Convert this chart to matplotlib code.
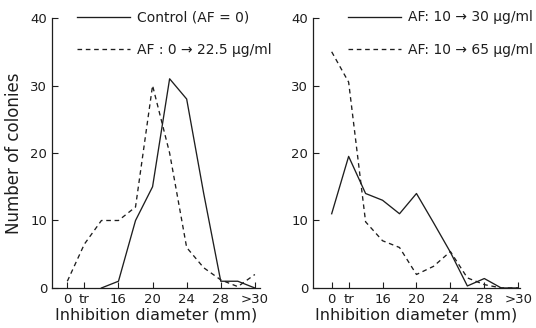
import matplotlib.pyplot as plt

# x categories (inhibition diameter, mm): 0, tr, 14, 16, ... 30, >30
categories = ['0', 'tr', '14', '16', '18', '20', '22', '24', '26', '28', '30', '>30']
tick_idx = [0, 1, 3, 5, 7, 9, 11]
tick_labels = ['0', 'tr', '16', '20', '24', '28', '>30']

# left panel
control = [None, None, 0, 1, 10, 15, 31, 28, 14, 1, 1, 0]
af_0_225 = [1, 6.5, 10, 10, 12, 30, 20, 6, 3, 1.2, 0.2, 2]

# right panel
af_10_30 = [11, 19.5, 14, 13, 11, 14, 9.7, 5.3, 0.3, 1.4, 0, 0]
af_10_65 = [35, 30.5, 9.8, 7, 6, 2, 3.2, 5.4, 1.5, 0.5, 0, 0]

ink = '#1e1e1e'
plt.rcParams['font.family'] = 'DejaVu Sans'

fig = plt.figure(figsize=(5.36, 3.28), dpi=100)
ax1 = fig.add_axes([0.097, 0.122, 0.388, 0.823])
ax2 = fig.add_axes([0.584, 0.122, 0.386, 0.823])


def xy(vals):
    pts = [(i, v) for i, v in enumerate(vals) if v is not None]
    return [p[0] for p in pts], [p[1] for p in pts]


dash = (0, (3.5, 2.8))

x, y = xy(control)
ax1.plot(x, y, color=ink, lw=0.95, label='Control (AF = 0)')
x, y = xy(af_0_225)
ax1.plot(x, y, color=ink, lw=0.95, ls=dash, label='AF : 0 \u2192 22.5 \u03bcg/ml')

x, y = xy(af_10_30)
ax2.plot(x, y, color=ink, lw=0.95, label='AF: 10 \u2192 30 \u03bcg/ml')
x, y = xy(af_10_65)
ax2.plot(x, y, color=ink, lw=0.95, ls=dash, label='AF: 10 \u2192 65 \u03bcg/ml')

ax1.set_xlim(-0.9, 11.3)
ax2.set_xlim(-1.1, 11.1)

for ax in (ax1, ax2):
    ax.set_ylim(0, 40)
    ax.set_yticks([0, 10, 20, 30, 40])
    ax.set_xticks(tick_idx)
    ax.set_xticklabels(tick_labels)
    ax.tick_params(direction='in', length=4, width=0.8, colors=ink, labelsize=9.5)
    ax.spines['top'].set_visible(False)
    ax.spines['right'].set_visible(False)
    for s in ('left', 'bottom'):
        ax.spines[s].set_color(ink)
        ax.spines[s].set_linewidth(0.9)
    ax.set_xlabel('Inhibition diameter (mm)', fontsize=11.5, color=ink, labelpad=1)

ax1.set_ylabel('Number of colonies', fontsize=12, color=ink, labelpad=5)

leg_kw = dict(loc='upper left', frameon=False, fontsize=10, handlelength=3.8,
              handletextpad=0.5, labelspacing=1.35, borderpad=0, borderaxespad=0,
              bbox_transform=fig.transFigure)
leg1 = ax1.legend(bbox_to_anchor=(77 / 536, 0.968), **leg_kw)
leg2 = ax2.legend(bbox_to_anchor=(348 / 536, 0.968), **leg_kw)
for leg in (leg1, leg2):
    for t in leg.get_texts():
        t.set_color(ink)

fig.savefig('out.png', dpi=100, facecolor='white')
